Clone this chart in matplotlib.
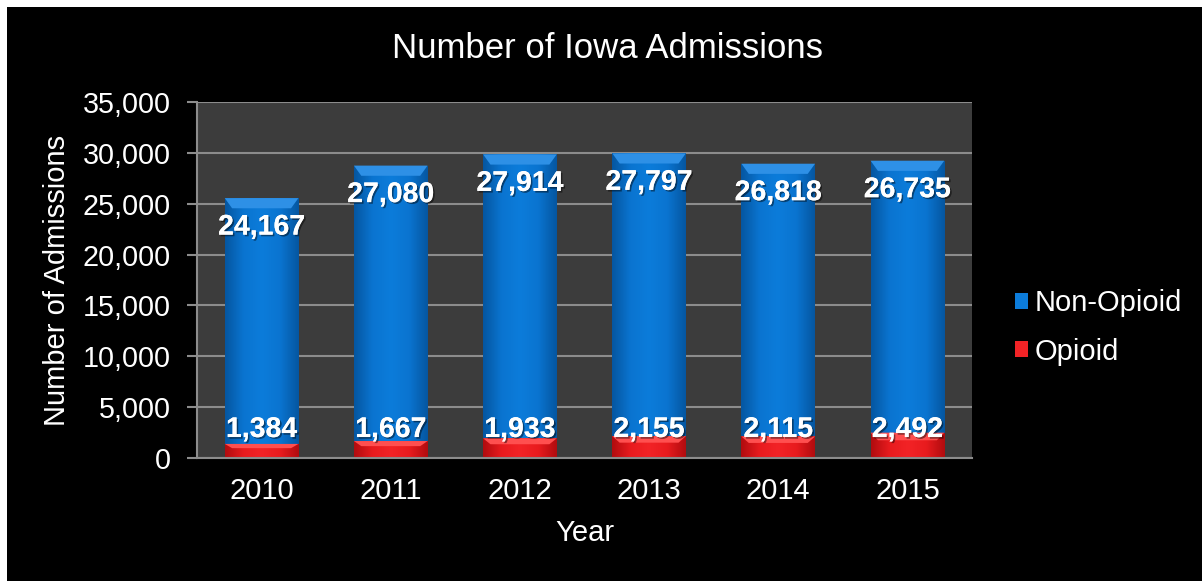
import numpy as np
import matplotlib.pyplot as plt
import matplotlib.patheffects as pe
from matplotlib.patches import Rectangle
from matplotlib.colors import LinearSegmentedColormap

years = ['2010', '2011', '2012', '2013', '2014', '2015']
opioid = [1384, 1667, 1933, 2155, 2115, 2492]
non_opioid = [24167, 27080, 27914, 27797, 26818, 26735]

plt.rcParams['font.family'] = ['Liberation Sans', 'DejaVu Sans']

fig = plt.figure(figsize=(12.02, 5.81), dpi=100, facecolor='white')
# black panel, leaving a thin white strip top and left
fig.patches.append(Rectangle((7 / 1202, 0), 1, 1 - 7 / 581, transform=fig.transFigure,
                             facecolor='black', edgecolor='none', zorder=-10))

ax = fig.add_axes([197 / 1202, 1 - 458 / 581, 775 / 1202, 356 / 581])
ax.set_facecolor('#3c3c3c')

x = np.arange(len(years))
width = 0.57

blue_cmap = LinearSegmentedColormap.from_list('b', ['#0556a0', '#0a74d0', '#0c7cda', '#0a74d0', '#0556a0'])
red_cmap = LinearSegmentedColormap.from_list('r', ['#b00c0f', '#e81b1e', '#f22326', '#e81b1e', '#b00c0f'])
grad = np.linspace(0, 1, 256).reshape(1, -1)


def shaded_bars(bottom, height, cmap, top_color, label):
    bars = ax.bar(x, height, width, bottom=bottom, color=cmap(0.5), edgecolor='none',
                  zorder=3, label=label)
    for b in bars:
        x0, y0 = b.get_x(), b.get_y()
        w, h = b.get_width(), b.get_height()
        im = ax.imshow(grad, cmap=cmap, aspect='auto', extent=(x0, x0 + w, y0, y0 + h),
                       zorder=3, interpolation='bicubic')
        im.set_clip_path(b)
        # bevel along the top edge
        cap = min(1000, h * 0.3)
        ax.add_patch(plt.Polygon([(x0, y0 + h), (x0 + w, y0 + h),
                                  (x0 + w * 0.9, y0 + h - cap), (x0 + w * 0.1, y0 + h - cap)],
                                 closed=True, facecolor=top_color, edgecolor='none', zorder=4))
    return bars


shaded_bars(0, opioid, red_cmap, '#ff4f4f', 'Opioid')
shaded_bars(opioid, non_opioid, blue_cmap, '#2e90e6', 'Non-Opioid')

shadow = [pe.withSimplePatchShadow(offset=(1.2, -1.2), shadow_rgbFace='black', alpha=0.45), pe.Normal()]
for i in range(len(years)):
    top = opioid[i] + non_opioid[i]
    ax.text(x[i], top - 2900, f'{non_opioid[i]:,}', ha='center', va='center', color='white',
            fontsize=20.5, fontweight='bold', zorder=6, path_effects=shadow)
    ax.text(x[i], 2750, f'{opioid[i]:,}', ha='center', va='center', color='white',
            fontsize=20.5, fontweight='bold', zorder=6, path_effects=shadow)

ax.set_xlim(-0.5, len(years) - 0.5)
ax.set_ylim(0, 35000)
ax.set_yticks(np.arange(0, 35001, 5000))
ax.set_yticklabels([f'{v:,}' for v in range(0, 35001, 5000)])
ax.set_xticks(x)
ax.set_xticklabels(years)
ax.grid(axis='y', color='#8c8c8c', linewidth=1.5, zorder=1)
ax.set_axisbelow(True)
for s in ['top', 'right']:
    ax.spines[s].set_visible(False)
for s in ['left', 'bottom']:
    ax.spines[s].set_color('#8c8c8c')
    ax.spines[s].set_linewidth(1.5)
    ax.spines[s].set_zorder(5)
ax.tick_params(axis='y', colors='#8c8c8c', labelcolor='white', labelsize=20.7, length=7, width=1.5, pad=12)
ax.tick_params(axis='x', length=0, labelcolor='white', labelsize=21, pad=14)

ax.set_xlabel('Year', color='white', fontsize=21, labelpad=10)
ax.set_ylabel('Number of Admissions', color='white', fontsize=21, labelpad=8)
fig.text(608 / 1202, 1 - 48 / 581, 'Number of Iowa Admissions', ha='center', va='center',
         color='white', fontsize=25)

h, l = ax.get_legend_handles_labels()
leg = ax.legend(h[::-1], l[::-1], loc='center left', bbox_to_anchor=(1.055, 0.367), frameon=False,
                fontsize=21, labelcolor='white', handlelength=0.45, handleheight=0.45,
                handletextpad=0.25, labelspacing=0.7, borderpad=0, borderaxespad=0)

fig.savefig('out.png', dpi=100, facecolor=fig.get_facecolor())
